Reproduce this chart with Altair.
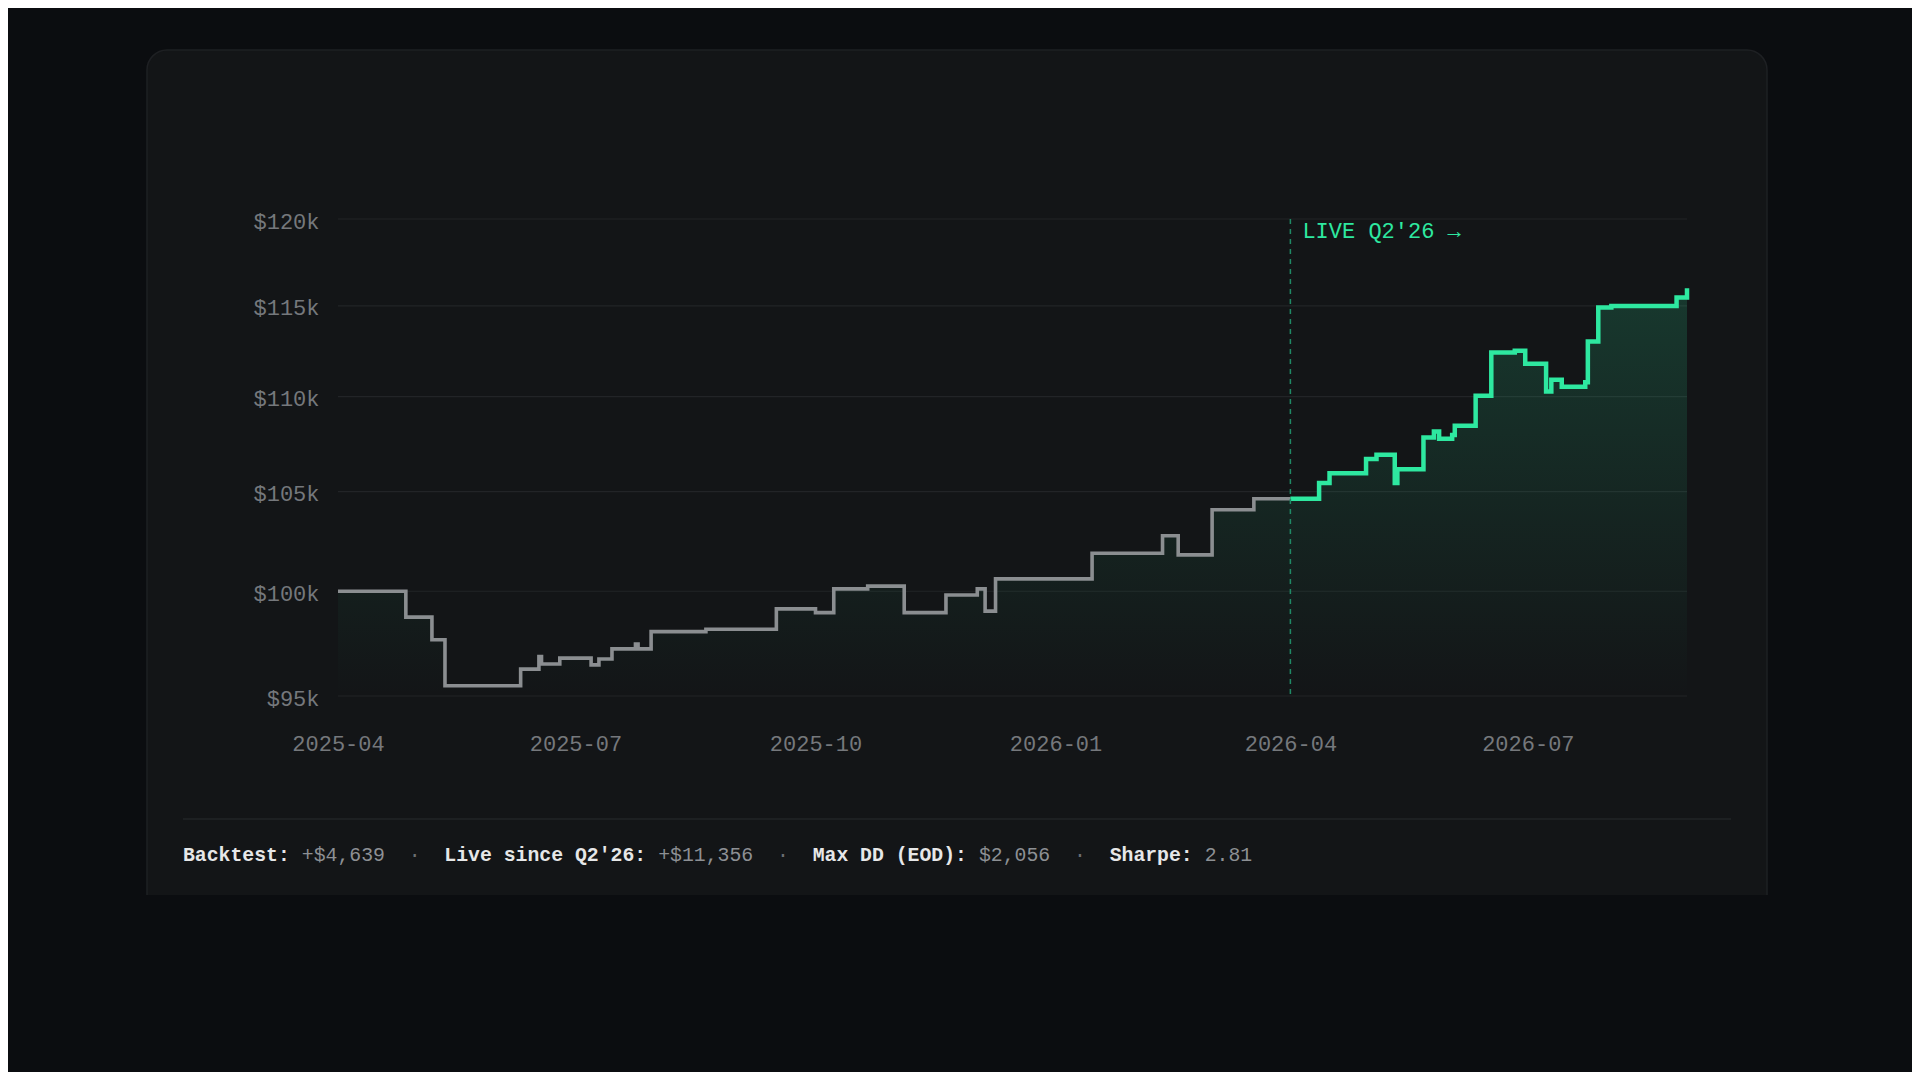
import altair as alt
import pandas as pd

BG = "#0b0d10"
CARD = "#131517"
CARD_EDGE = "#1e2023"
GRID = "#222427"
MUTED = "#75787c"
GREY_LINE = "#8b8e91"
GREEN = "#2ee8a0"
GREEN_DIM = "#1f8a66"
FONT = "Liberation Mono"

# equity curve, one entry per change of value (step-after)
BACKTEST_DATES = [
    "2025-04-01", "2025-04-27", "2025-05-07", "2025-05-12", "2025-06-10",
    "2025-06-17", "2025-06-18", "2025-06-25", "2025-07-07", "2025-07-10",
    "2025-07-15", "2025-07-24", "2025-07-25", "2025-07-30", "2025-08-20",
    "2025-09-16", "2025-10-01", "2025-10-08", "2025-10-21", "2025-11-04",
    "2025-11-20", "2025-12-02", "2025-12-05", "2025-12-09", "2026-01-15",
    "2026-02-11", "2026-02-17", "2026-03-02", "2026-03-18", "2026-04-01",
]
BACKTEST_VALUES = [
    100000, 98740, 97650, 95480, 96260,
    96850, 96500, 96780, 96460, 96740,
    97220, 97450, 97220, 98045, 98160,
    99140, 98960, 100115, 100250, 98960,
    99820, 100115, 99030, 100607, 101880,
    102760, 101800, 104070, 104639, 104639,
]
LIVE_DATES = [
    "2026-04-01", "2026-04-12", "2026-04-16", "2026-04-30", "2026-05-04",
    "2026-05-11", "2026-05-12", "2026-05-22", "2026-05-26", "2026-05-28",
    "2026-06-02", "2026-06-03", "2026-06-11", "2026-06-17", "2026-06-26",
    "2026-06-30", "2026-07-08", "2026-07-10", "2026-07-14", "2026-07-23",
    "2026-07-24", "2026-07-28", "2026-08-02", "2026-08-27", "2026-08-31",
]
LIVE_VALUES = [
    104639, 105440, 105950, 106690, 106910,
    105440, 106160, 107820, 108140, 107750,
    107960, 108440, 110050, 112410, 112500,
    111790, 110280, 110910, 110530, 110780,
    113010, 114910, 115000, 115480, 115995,
]

LIVE_START = "2026-04-01"
LIVE_LABEL = "LIVE Q2'26 \u2192"
Y_TICKS = [95000, 100000, 105000, 110000, 115000, 120000]
X_TICKS = [(2025, 4), (2025, 7), (2025, 10), (2026, 1), (2026, 4), (2026, 7)]

FOOTER_LABELS = ["Backtest:", "Live since Q2'26:", "Max DD (EOD):", "Sharpe:"]
FOOTER_VALUES = ["+$4,639", "+$11,356", "$2,056", "2.81"]

W, H = 1349, 477
FOOTER_SIZE = 19.8
CHAR_W = FOOTER_SIZE * 0.6

backtest = pd.DataFrame({"date": BACKTEST_DATES, "value": BACKTEST_VALUES})
live = pd.DataFrame({"date": LIVE_DATES, "value": LIVE_VALUES})
equity = pd.concat([backtest.iloc[:-1], live], ignore_index=True)
one = pd.DataFrame({"k": [0]})

xscale = alt.Scale(
    type="utc",
    domain=[alt.DateTime(year=2025, month=4, date=1, utc=True),
            alt.DateTime(year=2026, month=8, date=31, utc=True)],
    nice=False,
)
yscale = alt.Scale(type="log", domain=[95000, 120000], nice=False)

xaxis = alt.Axis(
    values=[alt.DateTime(year=y, month=m, date=1, utc=True) for y, m in X_TICKS],
    format="%Y-%m", title=None, grid=False, ticks=False, tickSize=0, domain=False,
    labelPadding=47, labelBaseline="middle", labelAngle=0, labelFlush=False,
    labelOverlap=False, labelFont=FONT, labelFontSize=22, labelColor=MUTED, zindex=1,
)
yaxis = alt.Axis(
    values=Y_TICKS, labelExpr="'$' + format(datum.value / 1000, 'd') + 'k'",
    title=None, grid=False, ticks=False, tickSize=0, domain=False, labelOffset=2,
    labelPadding=19, labelFont=FONT, labelFontSize=22, labelColor=MUTED, zindex=1,
)

card = alt.Chart(one).mark_rect(
    fill=CARD, stroke=CARD_EDGE, strokeWidth=1.5, cornerRadius=20
).encode(x=alt.value(-191), x2=alt.value(1429), y=alt.value(-169), y2=alt.value(700))

cover = alt.Chart(one).mark_rect(fill=BG).encode(
    x=alt.value(-200), x2=alt.value(1440), y=alt.value(676), y2=alt.value(845)
)

separator = alt.Chart(one).mark_rule(color=GRID, strokeWidth=1.5).encode(
    x=alt.value(-155), x2=alt.value(1393), y=alt.value(600)
)

grid = alt.Chart(pd.DataFrame({"tick": Y_TICKS})).mark_rule(
    color=GRID, strokeWidth=1.2
).encode(y=alt.Y("tick:Q", scale=yscale, axis=yaxis))

fill = alt.Gradient(
    gradient="linear",
    stops=[alt.GradientStop(offset=0, color="rgba(46,232,160,0.17)"),
           alt.GradientStop(offset=1, color="rgba(46,232,160,0)")],
    x1=0, x2=0, y1=0, y2=1,
)
area = alt.Chart(equity).mark_area(interpolate="step-after", color=fill).encode(
    x=alt.X("date:T", scale=xscale, axis=xaxis),
    y=alt.Y("value:Q", scale=yscale, axis=yaxis),
    y2=alt.datum(95000),
)

grey_line = alt.Chart(backtest).mark_line(
    interpolate="step-after", color=GREY_LINE, strokeWidth=3.6
).encode(
    x=alt.X("date:T", scale=xscale, axis=xaxis),
    y=alt.Y("value:Q", scale=yscale, axis=yaxis),
)

live_line = alt.Chart(live).mark_line(
    interpolate="step-after", color=GREEN, strokeWidth=4.5
).encode(
    x=alt.X("date:T", scale=xscale, axis=xaxis),
    y=alt.Y("value:Q", scale=yscale, axis=yaxis),
)

start = pd.DataFrame({"date": [LIVE_START]})
live_rule = alt.Chart(start).mark_rule(
    color=GREEN_DIM, strokeWidth=1.5, strokeDash=[5, 5]
).encode(x=alt.X("date:T", scale=xscale, axis=xaxis))

live_text = alt.Chart(start).mark_text(
    text=LIVE_LABEL, align="left", baseline="middle", dx=12,
    font=FONT, fontSize=22, color=GREEN,
).encode(x=alt.X("date:T", scale=xscale, axis=xaxis), y=alt.value(11.5))

# footer stats line, laid out on the monospace grid
pieces = []
col = 0
for i, (lab, val) in enumerate(zip(FOOTER_LABELS, FOOTER_VALUES)):
    if i:
        pieces.append(("\u00b7", col + 2, "#6b6e72", "normal"))
        col += 5
    pieces.append((lab, col, "#e6e7e8", "bold"))
    col += len(lab) + 1
    pieces.append((val, col, "#8d9094", "normal"))
    col += len(val)

footer = [
    alt.Chart(one).mark_text(
        text=txt, align="left", baseline="middle", font=FONT,
        fontSize=FOOTER_SIZE, fontWeight=weight, color=color,
    ).encode(x=alt.value(-155 + pos * CHAR_W), y=alt.value(636))
    for txt, pos, color, weight in pieces
]

chart = (
    alt.layer(card, cover, separator, grid, area, grey_line, live_line,
              live_rule, live_text, *footer)
    .properties(
        width=W, height=H,
        autosize=alt.AutoSizeParams(type="none"),
        padding={"left": 330, "top": 211, "right": 225, "bottom": 376},
        background=BG,
    )
    .configure_view(stroke="transparent")
)

chart.save("out.html", embed_options={"renderer": "svg", "actions": False})
